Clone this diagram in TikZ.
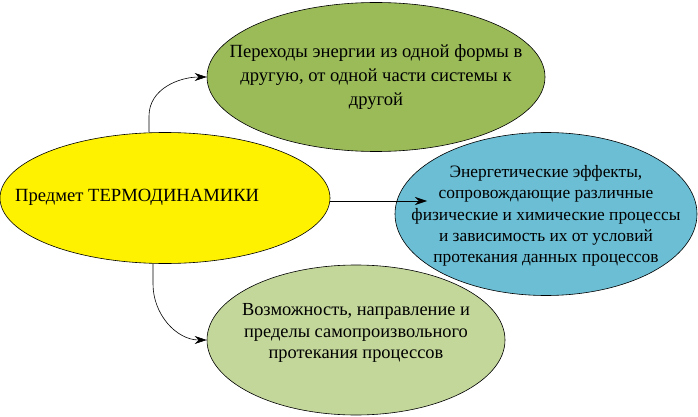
\documentclass[tikz,border=0pt]{standalone}
\usepackage{fontspec}
\setmainfont{Liberation Serif}
\usetikzlibrary{shapes.geometric,arrows.meta}
\definecolor{olive}{RGB}{155,187,89}
\definecolor{skyblue}{RGB}{108,190,212}
\definecolor{palegreen}{RGB}{196,215,155}
\tikzset{
  oval/.style={ellipse, draw=black, line width=0.6pt, inner sep=0pt},
  lbl/.style={align=center, inner sep=0pt, font=\fontsize{18.6}{24}\selectfont},
  conn/.style={line width=0.6pt, -{Stealth[length=12pt,width=8pt]}}
}
\begin{document}
\begin{tikzpicture}[x=1pt,y=-1pt]
\useasboundingbox (0,0) rectangle (698,417);
\node[oval, fill=yellow, minimum width=330, minimum height=131] (subj) at (165,198) {};
\node[oval, fill=olive, minimum width=338, minimum height=149] (forms) at (376,77) {};
\node[oval, fill=skyblue, minimum width=302, minimum height=163] (effects) at (546,214) {};
\node[oval, fill=palegreen, minimum width=298, minimum height=150] (possib) at (356,340) {};
\node[lbl, anchor=west] (subjt) at (15,197) {Предмет ТЕРМОДИНАМИКИ};
\node[lbl] (formst) at (376,77) {Переходы энергии из одной формы в\\другую, от одной части системы к\\другой};
\node[lbl, font=\fontsize{17.4}{21.4}\selectfont] (effectst) at (546,216) {Энергетические эффекты,\\сопровождающие различные\\физические и химические процессы\\и зависимость их от условий\\протекания данных процессов};
\node[lbl, font=\fontsize{18.4}{21.5}\selectfont] (possibt) at (356,333) {Возможность, направление и\\пределы самопроизвольного\\протекания процессов};
\coordinate (effin) at (427,201);
\draw[conn] (subj.north -| 149,0) -- (149,116) to[out=90,in=180] (forms.west);
\draw[conn] (subj.east |- 0,201) -- (effin);
\draw[conn] (subj.south -| 153,0) -- (153,284) to[out=-90,in=180] (possib.west);
\end{tikzpicture}
\end{document}
